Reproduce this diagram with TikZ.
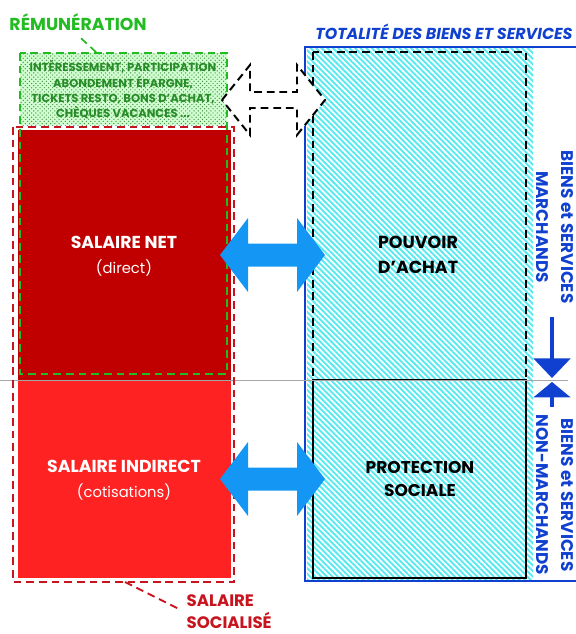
\documentclass[tikz,border=0pt]{standalone}
\usepackage{fontspec}
\setmainfont{Poppins}
\usetikzlibrary{arrows.meta, patterns, patterns.meta, positioning}
\definecolor{salnet}{HTML}{C00000}
\definecolor{salind}{HTML}{FF2222}
\definecolor{socred}{HTML}{C8141E}
\definecolor{remgreen}{HTML}{22BB22}
\definecolor{remtext}{HTML}{268C26}
\definecolor{totblue}{HTML}{1040D0}
\definecolor{arrowblue}{HTML}{1496F5}
\definecolor{hatchcyan}{HTML}{58EAF0}
% two-headed block arrow: [style]{left tip}{right tip}{y}{head half}{shaft half}
\newcommand{\twowayarrow}[6][]{%
  \path[#1] (#2,#4) -- ++(28,-#5) -- ++(0,#5-#6) -- (#3-28,#4-#6) -- ++(0,#6-#5)
    -- (#3,#4) -- ++(-28,#5) -- ++(0,#6-#5) -- (#2+28,#4+#6) -- ++(0,#5-#6) -- cycle;}

\begin{document}
\begin{tikzpicture}[x=0.025cm, y=-0.025cm,
    redline/.style={draw=socred, line width=1.4pt, dash pattern=on 5.5pt off 3.5pt},
    greenline/.style={draw=remgreen, line width=1.2pt, dash pattern=on 5.5pt off 3.5pt},
    blackline/.style={draw=black, line width=1.4pt, dash pattern=on 5.5pt off 3.5pt},
    boxtext/.style={align=center, font=\fontsize{12.3}{17.7}\selectfont},
    sidetext/.style={totblue, rotate=-90, align=center, font=\bfseries\fontsize{12}{17.7}\selectfont}]
\useasboundingbox (0,0) rectangle (576,634);

% goods and services
\fill[pattern={Lines[angle=-45,distance=2.8pt,line width=1.4pt]}, pattern color=hatchcyan] (307,48) rectangle (533,579);
\draw[totblue, line width=2pt] (576,47) -- (305,47) -- (305,581) -- (576,581);
\draw[blackline] (313,52) rectangle (526,380);
\draw[black, line width=1.6pt] (313,380) rectangle (526,578);

% wages
\fill[salnet] (18,130) rectangle (231,380);
\fill[salind] (18,380) rectangle (231,578);
\draw[gray!70, line width=0.6pt] (0,380) -- (568,380);
\draw[redline] (13,127) rectangle (234,582);
\fill[green!18] (20,53) rectangle (227,125);
\fill[pattern=crosshatch dots, pattern color=green!40!black!70] (20,53) rectangle (227,125);
\draw[greenline] (20,53) rectangle (227,374);

% arrows
\twowayarrow[blackline, fill=white]{222}{325}{100}{35}{8}
\twowayarrow[fill=arrowblue]{220}{325}{255}{37}{11.5}
\twowayarrow[fill=arrowblue]{220}{325}{479}{37}{11.5}

\node[boxtext, white] (net) at (124,256) {\textbf{SALAIRE NET}\\{\fontsize{10.5}{12}\selectfont(direct)}};
\node[boxtext, white] (indirect) at (124,480) {\textbf{SALAIRE INDIRECT}\\{\fontsize{10.5}{12}\selectfont(cotisations)}};
\node[boxtext, font=\bfseries\fontsize{12.4}{17.7}\selectfont] (achat) at (418,255) {POUVOIR\\D’ACHAT};
\node[boxtext, font=\bfseries\fontsize{12.1}{16}\selectfont] (protection) at (420,479) {PROTECTION\\SOCIALE};

\node[remgreen, font=\bfseries\fontsize{12.3}{14}\selectfont] (rem) at (78,22) {RÉMUNÉRATION};
\node[remtext, align=center, font=\bfseries\fontsize{8.2}{10.9}\selectfont] (extras) at (123,90)
  {INTÉRESSEMENT, PARTICIPATION\\ABONDEMENT ÉPARGNE,\\TICKETS RESTO, BONS D’ACHAT,\\CHÈQUES VACANCES ...};
\coordinate (remtip) at (97,53);
\draw[greenline, shorten <=3pt] (rem.south) -- (remtip);

\node[totblue, font=\bfseries\itshape\fontsize{11.3}{14}\selectfont] (total) at (444,32) {TOTALITÉ DES BIENS ET SERVICES};

\node[socred, align=left, anchor=west, inner sep=1pt, font=\bfseries\fontsize{11.8}{15.6}\selectfont] (socialise) at (185,612) {SALAIRE\\SOCIALISÉ};
\coordinate (soctip) at (125,582);
\draw[redline, shorten >=4pt] (soctip) -- (socialise.west);

% market / non-market
\node[sidetext] (market) at (555,227) {BIENS et SERVICES\\MARCHANDS};
\node[sidetext] (nonmarket) at (555,495) {BIENS et SERVICES\\NON-MARCHANDS};
\coordinate (split) at (552,380);
\coordinate (upper) at (552,317);
\coordinate (lower) at (552,407);
\draw[totblue, line width=2.8pt, -{Triangle[length=14pt,width=26pt]}] (upper) -- ([yshift=1.4pt]split);
\draw[totblue, line width=2.8pt, -{Triangle[length=11pt,width=26pt]}] (lower) -- ([yshift=-1.4pt]split);
\end{tikzpicture}
\end{document}
